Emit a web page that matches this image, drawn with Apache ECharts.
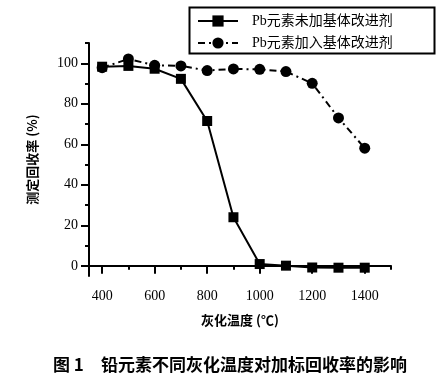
<!DOCTYPE html>
<html>
<head>
<meta charset="utf-8">
<script src="https://cdn.jsdelivr.net/npm/echarts@6/dist/echarts.min.js"></script>
<style>html,body{margin:0;padding:0;background:#fff;}#c{width:439px;height:388px;}</style>
</head>
<body>
<div id="c"></div>
<script>
var temps = [400, 500, 600, 700, 800, 900, 1000, 1100, 1200, 1300, 1400];
var noModifier = [98.3, 98.7, 97.3, 92.3, 71.5, 24.0, 0.9, 0.1, -0.8, -0.9, -0.9];
var withModifier = [97.8, 102.1, 99.0, 98.7, 96.4, 97.2, 97.0, 95.9, 90.1, 73.0, 58.1];
var seriesNames = ['Pb元素未加基体改进剂', 'Pb元素加入基体改进剂'];
var xMajorTicks = [400, 600, 800, 1000, 1200, 1400];
var xMinorTicks = [500, 700, 900, 1100, 1300, 1500];
var yMajorTicks = [0, 20, 40, 60, 80, 100];
var yMinorTicks = [10, 30, 50, 70, 90, 110];
var xTitle = '灰化温度 (℃)';
var yTitle = '测定回收率 (%)';
var caption = '图 1　铅元素不同灰化温度对加标回收率的影响';

function pairs(xs, ys) { return xs.map(function (x, i) { return [x, ys[i]]; }); }
function plain(v) { return String(v); }

var serif = '"Liberation Serif", "Noto Sans CJK SC", serif';
var cjk = '"Noto Sans CJK SC", "Liberation Serif", sans-serif';
var chart = echarts.init(document.getElementById('c'), null, {renderer: 'canvas'});
var option = {
  animation: false,
  backgroundColor: '#fff',
  grid: {left: 89, top: 43, width: 302, height: 233, containLabel: false},
  legend: {
    left: 192, top: 9, orient: 'vertical', itemGap: 8, itemWidth: 40, itemHeight: 14,
    data: seriesNames,
    textStyle: {color: '#000', fontSize: 14, fontFamily: serif, padding: [0, 0, 0, 9]}
  },
  xAxis: [{
    type: 'value', min: 350, max: 1500, position: 'bottom',
    name: xTitle, nameLocation: 'middle', nameGap: 38,
    nameTextStyle: {color: '#000', fontSize: 13, fontWeight: 'bold', fontFamily: cjk},
    axisLine: {show: true, lineStyle: {color: '#000', width: 2}},
    axisTick: {show: true, length: 8, customValues: xMajorTicks, lineStyle: {color: '#000', width: 2}},
    axisLabel: {customValues: xMajorTicks, formatter: plain, margin: 13, color: '#000', fontSize: 14, fontFamily: serif},
    splitLine: {show: false}
  }, {
    type: 'value', min: 350, max: 1500, position: 'bottom', gridIndex: 0,
    axisLine: {show: false},
    axisTick: {show: true, length: 4, customValues: xMinorTicks, lineStyle: {color: '#000', width: 2}},
    axisLabel: {show: false},
    splitLine: {show: false}
  }],
  yAxis: [{
    type: 'value', min: -5, max: 110, position: 'left',
    name: yTitle, nameLocation: 'middle', nameGap: 50, nameRotate: 90,
    nameTextStyle: {color: '#000', fontSize: 13, fontWeight: 'bold', fontFamily: cjk},
    axisLine: {show: true, lineStyle: {color: '#000', width: 2}},
    axisTick: {show: true, length: 8, customValues: yMajorTicks, lineStyle: {color: '#000', width: 2}},
    axisLabel: {customValues: yMajorTicks, formatter: plain, margin: 11, color: '#000', fontSize: 14, fontFamily: serif},
    splitLine: {show: false}
  }, {
    type: 'value', min: -5, max: 110, position: 'left', gridIndex: 0,
    axisLine: {show: false},
    axisTick: {show: true, length: 4, customValues: yMinorTicks, lineStyle: {color: '#000', width: 2}},
    axisLabel: {show: false},
    splitLine: {show: false}
  }],
  graphic: [
    {type: 'rect', left: 187, top: 5, shape: {width: 245, height: 46},
     style: {fill: 'none', stroke: '#000', lineWidth: 2}, z: 10},
    {type: 'text', left: 53, top: 356,
     style: {text: caption, fill: '#000', font: 'bold 17px "Noto Sans CJK SC", sans-serif'}}
  ],
  series: [{
    name: seriesNames[0], type: 'line', data: pairs(temps, noModifier),
    symbol: 'rect', symbolSize: 10,
    itemStyle: {color: '#000'},
    lineStyle: {color: '#000', width: 2, type: 'solid'}
  }, {
    name: seriesNames[1], type: 'line', data: pairs(temps, withModifier),
    symbol: 'circle', symbolSize: 11,
    itemStyle: {color: '#000'},
    lineStyle: {color: '#000', width: 2, type: [7, 4, 2, 4]}
  }]
};
chart.setOption(option);
</script>
</body>
</html>
